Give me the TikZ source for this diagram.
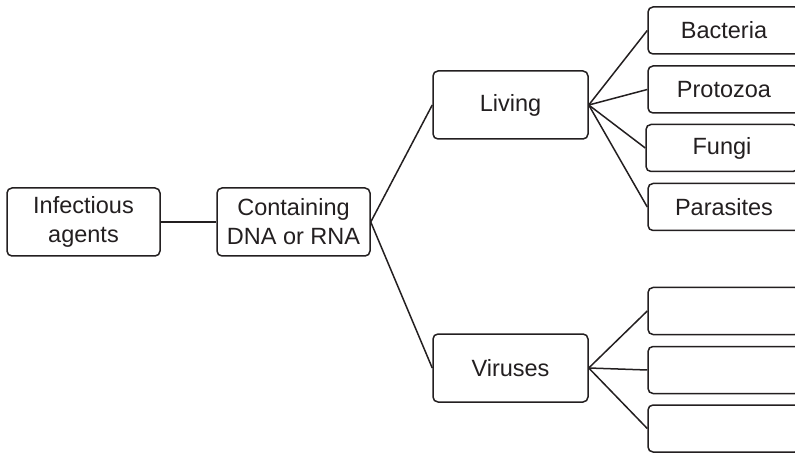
\documentclass[tikz,border=0pt]{standalone}
\usepackage{fontspec}
\setmainfont{Liberation Sans}
\definecolor{ink}{HTML}{231F20}
\begin{document}
\begin{tikzpicture}[x=1pt,y=-1pt,
  box/.style={draw=ink, line width=1.5pt, rounded corners=5pt, fill=white,
    align=center, inner sep=0pt, text=ink,
    font=\fontsize{23.5}{29}\selectfont},
  bigbox/.style={box, minimum width=153pt, minimum height=68pt},
  leafbox/.style={box, minimum width=152pt, minimum height=47pt},
  link/.style={draw=ink, line width=1.5pt}]
\useasboundingbox (0,0) rectangle (795,454);
\clip (0,0) rectangle (795,454);

% main chain
\node[bigbox] (inf)  at (83.5,222)  {Infectious\\agents};
\node[bigbox] (dna)  at (293.5,222) {Containing\\DNA or RNA};
\node[bigbox, minimum width=155pt] (liv) at (510.5,105) {Living};
\node[bigbox, minimum width=155pt] (vir) at (510.5,368) {Viruses};

% living organisms
\node[leafbox] (bac) at (724,30.5)  {Bacteria};
\node[leafbox] (pro) at (724,89.5)  {Protozoa};
\node[leafbox] (fun) at (722,148)   {Fungi};
\node[leafbox] (par) at (724,207)   {Parasites};

% virus groups (blank)
\node[leafbox] (v1) at (724,311)   {};
\node[leafbox] (v2) at (724,370)   {};
\node[leafbox] (v3) at (724,428.5) {};

% connectors
\draw[link] (inf.east) -- (dna.west);
\draw[link] (dna.east) -- (liv.west);
\draw[link] (dna.east) -- (vir.west);
\foreach \t in {bac,pro,fun,par} \draw[link] (liv.east) -- (\t.west);
\foreach \t in {v1,v2,v3} \draw[link] (vir.east) -- (\t.west);
\end{tikzpicture}
\end{document}
